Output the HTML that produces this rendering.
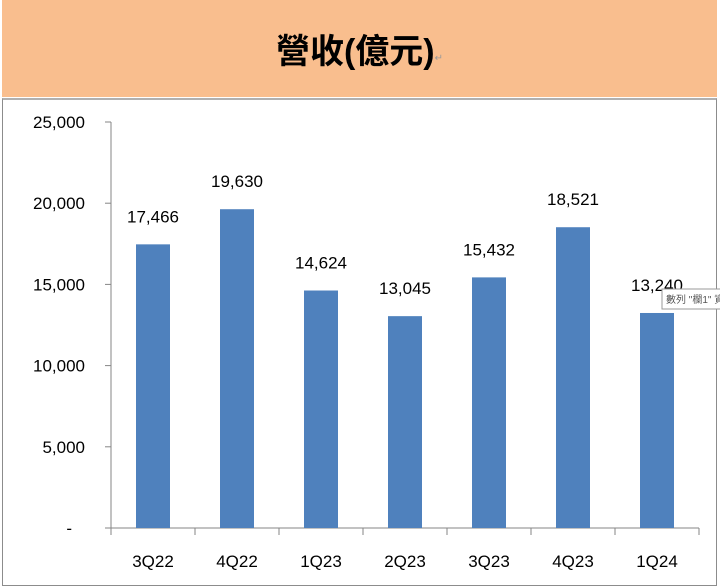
<!DOCTYPE html>
<html><head><meta charset="utf-8"><style>
body{margin:0;width:720px;height:587px;background:#fff;overflow:hidden;font-family:"Liberation Sans","Noto Sans CJK TC",sans-serif}
#hdr{position:absolute;left:2px;top:0;width:715px;height:97px;background:#f9be8e;display:flex;align-items:center;justify-content:center;font-size:34px;font-weight:bold;color:#000}
#box{position:absolute;left:2px;top:98px;width:713px;height:485px;border:1px solid #8c8c8c;border-top:2px solid #b0b0b0}
svg{position:absolute;left:0;top:0}
</style></head><body>
<div id="hdr">營收(億元)<span style="font-size:10px;font-weight:normal;color:#999;margin-top:20px">↵</span></div>
<div id="box"></div>
<svg id="c" width="720" height="587"></svg>
<script>
const categories=["3Q22","4Q22","1Q23","2Q23","3Q23","4Q23","1Q24"];
const values=[17466,19630,14624,13045,15432,18521,13240];
const valueLabels=["17,466","19,630","14,624","13,045","15,432","18,521","13,240"];
const yTicks=[0,5000,10000,15000,20000,25000];
const yTickLabels=["-","5,000","10,000","15,000","20,000","25,000"];
const NS="http://www.w3.org/2000/svg",svg=document.getElementById('c');
const x0=111,x1=699,y0=528,y1=122,yMax=25000,bw=(x1-x0)/categories.length;
const Y=v=>y0-(v/yMax)*(y0-y1),X=i=>x0+bw*(i+0.5);
function el(t,a,txt){const e=document.createElementNS(NS,t);for(const k in a)e.setAttribute(k,a[k]);if(txt!=null)e.textContent=txt;svg.appendChild(e);return e;}
let e=el('line',{x1:x0,y1:y1,x2:x0,y2:y0,stroke:'#868686'});


yTicks.forEach((t,i)=>{
 let l=el('line',{x1:x0-6,y1:Y(t),x2:x0,y2:Y(t),stroke:'#868686'});
 
 
 let tx=el('text',{x:i==0?72:85,y:Y(t)+6,'text-anchor':'end','font-size':'17',fill:'#000'},yTickLabels[i]);
 
 
});
e=el('line',{x1:x0,y1:y0,x2:x1,y2:y0,stroke:'#868686'});


for(let i=0;i<=categories.length;i++){
 let l=el('line',{x1:x0+bw*i,y1:y0,x2:x0+bw*i,y2:y0+7,stroke:'#868686'});
 
 
}
categories.forEach((c,i)=>{
 let r=el('rect',{x:X(i)-17,y:Y(values[i]),width:34,height:y0-Y(values[i]),fill:'#4f81bd'});
 
 
 let v=el('text',{x:X(i),y:Y(values[i])-22,'text-anchor':'middle','font-size':'17',fill:'#000'},valueLabels[i]);
 
 
 let t=el('text',{x:X(i),y:567,'text-anchor':'middle','font-size':'17',fill:'#000'},c);
 
 
});
let g=el('rect',{x:662,y:289,width:60,height:20,fill:'#fff',stroke:'#999'});


let gt=el('text',{x:666,y:303,'font-size':'10',fill:'#555'},'數列 "欄1" 資');


</script>
</body></html>
